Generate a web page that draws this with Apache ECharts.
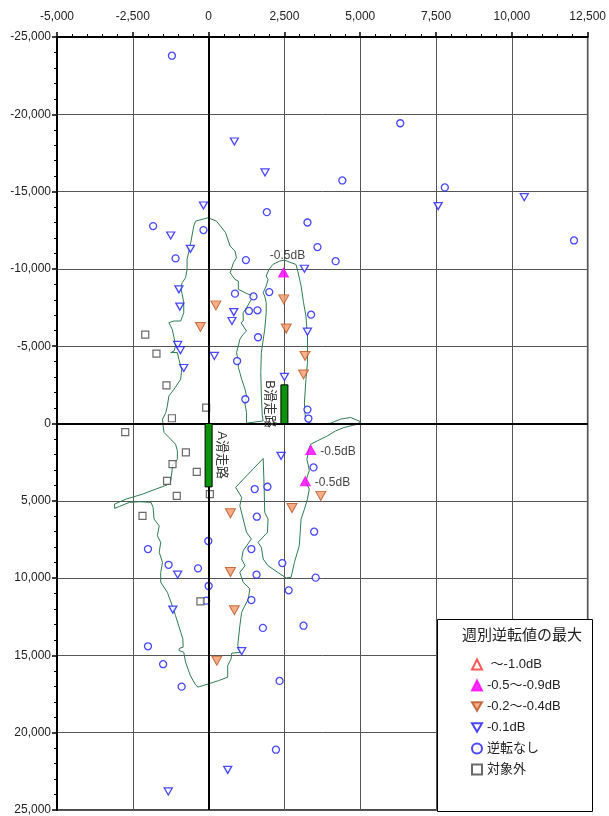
<!DOCTYPE html>
<html>
<head>
<meta charset="utf-8">
<script src="https://cdn.jsdelivr.net/npm/echarts@6/dist/echarts.min.js"></script>
<style>
  html, body { margin: 0; padding: 0; background: #fff; }
  #main { width: 609px; height: 816px; }
</style>
</head>
<body>
<div id="main"></div>
<script>
// 軸
const xTicks = { min: -5000, max: 12500, step: 2500 };
const yTicks = { min: -25000, max: 25000, step: 5000 };

// 凡例
const legendTitle = '週別逆転値の最大';
const seriesNames = [' ～-1.0dB', '-0.5～-0.9dB', '-0.2～-0.4dB', '-0.1dB', '逆転なし', '対象外'];

// -1.0dB 以上（該当なし）
const over10 = [];
// -0.5 ~ -0.9dB
const mag05 = [[2470, -9760], [3370, 1710], [3190, 3730]];
const mag05Labels = ['-0.5dB', '-0.5dB', '-0.5dB'];
// -0.2 ~ -0.4dB
const orange02 = [
  [240, -7640], [-270, -6240], [2480, -8030], [2560, -6140], [3180, -4370], [3130, -3170],
  [720, 5810], [720, 9610], [850, 12080], [2750, 5470], [3700, 4680], [270, 15340]
];
// -0.1dB
const blue01 = [
  [-170, -14100], [-1250, -12160], [-600, -11300], [-980, -8680], [-950, -7560], [830, -7210],
  [770, -6630], [-1020, -5080], [-930, -4740], [190, -4370], [-820, -3590], [2500, -3010],
  [3160, -10010], [3260, -5940], [7570, -14060], [10410, -14640], [850, -18240], [1860, -16240],
  [2390, 2090], [-1020, 9780], [-1180, 12040], [1090, 14730], [630, 22400], [-1330, 23800]
];
// 逆転なし
const noInv = [
  [-1210, -23790], [6320, -19420], [4410, -15720], [7790, -15270], [12050, -11840], [3260, -13000],
  [3590, -11410], [4190, -10500], [-1830, -12770], [-170, -12510], [-1090, -10680], [1920, -13670],
  [1230, -10570], [870, -8400], [1480, -8220], [1330, -7280], [1610, -7320], [2000, -8500],
  [1630, -5580], [940, -4040], [1210, -1570], [3380, -7040], [3260, -900], [3290, -320],
  [1520, 4240], [1940, 4090], [1590, 6030], [-10, 7600], [-2000, 8120], [1410, 8120],
  [-1320, 9140], [-350, 9370], [2430, 9030], [1580, 9780], [0, 10510], [2640, 10790],
  [1410, 11420], [-80, 11460], [3460, 2840], [3480, 7000], [3530, 9970], [1790, 13220],
  [3130, 13080], [2340, 16650], [2220, 21100], [-2000, 14410], [-1500, 15570], [-890, 17020]
];
// 対象外
const outOf = [
  [-2090, -5750], [-1720, -4520], [-1390, -2470], [-80, -1030], [-1210, -340], [-2750, 560],
  [-750, 1870], [-1190, 2630], [-390, 3130], [-1370, 3710], [-1050, 4680], [40, 4570],
  [-2180, 5970], [-270, 11500]
];

// 滑走路
const runwayNames = ['A滑走路', 'B滑走路'];
const runwayX = [0, 2500];
const runwayFrom = [0, -2500];
const runwayTo = [4100, 0];

// コンター
const contour = [
  [-20, -13310], [260, -13090], [555, -12360], [710, -11470], [870, -11150], [920, -10720],
  [820, -10400], [710, -9750], [870, -9320], [980, -9210], [980, -8680], [1240, -8420],
  [1470, -8240], [1410, -8030], [1250, -7490], [1140, -7170], [1140, -6630], [1070, -6520],
  [1250, -5980], [1140, -5770], [1030, -5450], [980, -5010], [920, -4590], [980, -4040],
  [980, -3620], [1030, -3290], [1090, -2860], [1200, -2220], [1250, -1780], [1200, -1250],
  [1250, -710], [1250, -20],
  [1800, -170], [1770, -490], [1740, -1780], [1720, -3290], [1740, -4590], [1850, -6090],
  [1900, -7170], [1900, -7820], [1850, -8240], [1800, -8460], [1900, -8890], [1960, -9320],
  [1900, -9540], [1990, -9970], [2120, -10290], [2340, -10500], [2500, -10570], [2720, -10400],
  [2880, -10290], [2940, -9860], [3050, -8890], [3130, -7820], [3210, -6950], [3260, -5660],
  [3260, -3940], [3210, -2860], [3160, -1360], [3180, -600], [3210, -170], [3370, -20],
  [3700, 50], [4020, -20], [4350, -280], [4680, -390], [5000, -130],
  [4900, 50], [4460, 260], [4190, 480], [3920, 800], [3590, 1120], [3370, 1340],
  [3320, 1550], [3290, 1870], [3240, 2310], [3290, 2740], [3320, 3060], [3260, 3390],
  [3210, 3810], [3320, 4240], [3260, 4890], [3160, 5540], [3050, 6180], [2990, 7910],
  [2830, 8980], [2720, 9950], [2560, 9990], [2280, 9630], [1960, 9200], [1800, 8770],
  [1740, 8010], [1630, 7690], [1940, 7040], [1960, 6180], [1850, 5750], [1830, 4030],
  [1800, 2260],
  [890, 4130], [1090, 4780], [1030, 5320], [1140, 6180], [1250, 7040], [1410, 7470],
  [1140, 8230], [1090, 8770], [1200, 9200], [1030, 9630], [1140, 10270], [1360, 10700],
  [1310, 11350], [1140, 12000], [1090, 12210], [1030, 13080], [960, 14370], [1070, 14790],
  [760, 14860], [740, 15230], [630, 15660], [630, 16410], [330, 16630], [0, 16840],
  [-350, 17050],
  [-430, 16910], [-600, 16310], [-760, 15440], [-820, 14790], [-980, 14690], [-960, 14540],
  [-840, 14470], [-850, 13930], [-920, 13500], [-1090, 12430], [-1200, 11780], [-1360, 10920],
  [-1580, 10270], [-1580, 9630], [-1520, 8980], [-1630, 8330], [-1580, 7690], [-1690, 7260],
  [-1630, 6620], [-1800, 6180], [-1830, 5430], [-1900, 5100], [-2280, 5060], [-2610, 5100],
  [-2940, 5360], [-3100, 5490], [-3100, 5210], [-2720, 4890], [-2180, 4570], [-1740, 4240],
  [-1360, 3970], [-1250, 3710], [-1200, 2950], [-1200, 2740], [-1030, 2310], [-1030, 1770],
  [-1090, 1340], [-1310, 900], [-1470, 580], [-1500, 160],
  [-1520, -280], [-1410, -710], [-1360, -1140], [-1310, -1780], [-1140, -2220], [-920, -2860],
  [-890, -3510], [-980, -4150], [-1030, -4590], [-1250, -4590], [-1140, -4690], [-1090, -5010],
  [-1140, -5560], [-1200, -6090], [-1310, -6520], [-1140, -6630], [-920, -6630], [-820, -7170],
  [-820, -7820], [-870, -8350], [-920, -8790], [-870, -9110], [-760, -9430], [-710, -9970],
  [-710, -10610], [-650, -11150], [-600, -11580], [-550, -12120], [-490, -12770], [-430, -13090],
  [-220, -13200], [-20, -13310]
];

const FONT = "'Liberation Sans', 'Noto Sans CJK JP', sans-serif";
const BLUE = '#1a1aff';
const DOWN = 'path://M0,0L20,0L10,17Z';

const chart = echarts.init(document.getElementById('main'));

const fmt = v => v.toLocaleString('en-US');

function baseAxis(t) {
  return {
    type: 'value',
    min: t.min,
    max: t.max,
    interval: t.step,
    axisLine: { show: true, onZero: false, lineStyle: { color: '#000', width: 2 } },
    axisTick: { show: true, inside: false, length: 5, lineStyle: { color: '#000', width: 1.5 } },
    minorTick: { show: true, splitNumber: 5, length: 3, lineStyle: { color: '#000', width: 1 } },
    splitLine: { show: true, lineStyle: { color: '#555', width: 1 } },
    axisLabel: { formatter: fmt, fontSize: 12, color: '#222', fontFamily: FONT }
  };
}

const xAxis = baseAxis(xTicks);
xAxis.position = 'top';
xAxis.axisLabel.margin = 14;

const yAxis = baseAxis(yTicks);
yAxis.inverse = true;
yAxis.axisLabel.margin = 6;

const labelPos = ['top', 'right', 'right'];

const option = {
  animation: false,
  backgroundColor: '#fff',
  textStyle: { fontFamily: FONT },
  grid: { left: 57, right: 17, top: 37, bottom: 5, show: true, borderColor: '#111', borderWidth: 1.5 },
  xAxis: xAxis,
  yAxis: yAxis,
  legend: {
    orient: 'vertical',
    left: 466,
    top: 653,
    itemWidth: 10,
    itemHeight: 10,
    itemGap: 8,
    z: 20,
    textStyle: { fontSize: 13, color: '#222', fontFamily: FONT },
    data: [
      { name: seriesNames[0], icon: 'triangle' },
      { name: seriesNames[1], icon: 'triangle' },
      { name: seriesNames[2], icon: DOWN },
      { name: seriesNames[3], icon: DOWN },
      { name: seriesNames[4], icon: 'circle' },
      { name: seriesNames[5], icon: 'rect' }
    ]
  },
  graphic: [
    {
      type: 'rect', z: 10,
      shape: { x: 437.5, y: 619.5, width: 155, height: 192 },
      style: { fill: '#fff', stroke: '#000', lineWidth: 1 }
    },
    {
      type: 'text', z: 11, x: 522, y: 636,
      style: { text: legendTitle, fontSize: 15, fill: '#222', align: 'center', verticalAlign: 'middle', fontFamily: FONT }
    }
  ],
  series: [
    {
      type: 'line',
      name: 'contour',
      data: contour,
      symbol: 'none',
      z: 2,
      lineStyle: { color: '#2e7d50', width: 1 },
      markLine: {
        silent: true,
        symbol: 'none',
        label: { show: false },
        lineStyle: { color: '#000', width: 2, type: 'solid' },
        data: [{ xAxis: 0 }, { yAxis: 0 }]
      }
    },
    {
      type: 'custom',
      name: 'runway',
      z: 5,
      data: runwayX.map((x, i) => [x, runwayFrom[i], runwayTo[i]]),
      encode: { x: 0, y: [1, 2] },
      renderItem: function (params, api) {
        const a = api.coord([api.value(0), api.value(1)]);
        const b = api.coord([api.value(0), api.value(2)]);
        const top = Math.min(a[1], b[1]);
        const h = Math.abs(b[1] - a[1]);
        const w = 7;
        const side = params.dataIndex === 0 ? 13 : -15;
        return {
          type: 'group',
          children: [
            { type: 'rect', shape: { x: a[0] - w / 2, y: top, width: w, height: h },
              style: { fill: '#0b920b', stroke: '#000', lineWidth: 1 } },
            { type: 'text', x: a[0] + side, y: top + h / 2, rotation: -Math.PI / 2,
              style: { text: runwayNames[params.dataIndex], fontSize: 13, fill: '#333',
                       align: 'center', verticalAlign: 'middle', fontFamily: FONT } }
          ]
        };
      }
    },
    {
      type: 'scatter', name: seriesNames[0], data: over10, z: 4,
      symbol: 'triangle', symbolSize: [10, 9],
      itemStyle: { color: '#fff', borderColor: '#ff3030', borderWidth: 1.2 }
    },
    {
      type: 'scatter', name: seriesNames[1], z: 4,
      data: mag05.map((p, i) => ({
        value: p,
        label: { show: true, formatter: mag05Labels[i], position: labelPos[i],
                 distance: labelPos[i] === 'top' ? 6 : 4, offset: labelPos[i] === 'top' ? [4, 0] : [0, 2] }
      })),
      symbol: 'triangle', symbolSize: [10, 9],
      itemStyle: { color: '#ff00ff', borderColor: '#ff00ff', borderWidth: 1 },
      label: { fontSize: 12, color: '#111', fontFamily: FONT }
    },
    {
      type: 'scatter', name: seriesNames[2], data: orange02, z: 4,
      symbol: DOWN, symbolSize: [10, 9],
      itemStyle: { color: '#f59a6a', borderColor: '#b8521e', borderWidth: 1 }
    },
    {
      type: 'scatter', name: seriesNames[3], data: blue01, z: 4,
      symbol: DOWN, symbolSize: [8, 7],
      itemStyle: { color: '#fff', borderColor: BLUE, borderWidth: 1.3 }
    },
    {
      type: 'scatter', name: seriesNames[4], data: noInv, z: 4,
      symbol: 'circle', symbolSize: 7,
      itemStyle: { color: '#fff', borderColor: BLUE, borderWidth: 1.3 }
    },
    {
      type: 'scatter', name: seriesNames[5], data: outOf, z: 4,
      symbol: 'rect', symbolSize: 7,
      itemStyle: { color: '#fff', borderColor: '#444', borderWidth: 1.2 }
    }
  ]
};

chart.setOption(option);
</script>
</body>
</html>
